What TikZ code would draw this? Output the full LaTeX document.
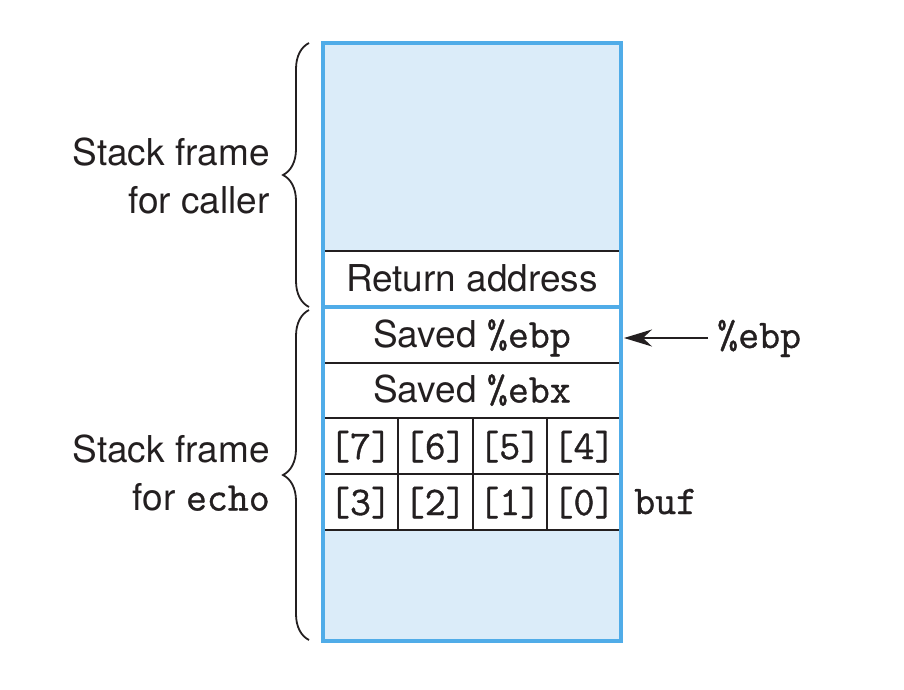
\documentclass[tikz,border=0pt]{standalone}
\usepackage{fontspec}
\setmainfont{TeX Gyre Heros}
\setmonofont{Latin Modern Mono}[Scale=1.1, RawFeature={embolden=0.9}]
\usetikzlibrary{arrows.meta,decorations.pathreplacing}
\definecolor{boxblue}{RGB}{80,172,232}
\definecolor{fillblue}{RGB}{219,236,249}
\definecolor{ink}{RGB}{35,31,32}
\begin{document}
\begin{tikzpicture}[x=1pt,y=-1pt,
  font=\fontsize{37}{48}\selectfont,
  txt/.style={text=ink, inner sep=0pt},
  rowline/.style={draw=ink, line width=2pt},
  blueline/.style={draw=boxblue, line width=3.5pt},
  bracestyle/.style={draw=ink, line width=1.8pt, decorate, decoration={brace, amplitude=26pt}},
  ptr/.style={draw=ink, line width=2pt, -{Stealth[length=28pt,width=17pt,inset=9pt]}}]
\useasboundingbox (0,0) rectangle (904,690);
% fills
\fill[fillblue] (323,43) rectangle (621,251);
\fill[fillblue] (323,530) rectangle (621,641);
% row lines
\draw[rowline] (323,251) -- (621,251);
\draw[rowline] (323,363) -- (621,363);
\draw[rowline] (323,418) -- (621,418);
\draw[rowline] (323,474) -- (621,474);
\draw[rowline] (323,530) -- (621,530);
\draw[rowline] (398,418) -- (398,530);
\draw[rowline] (472.5,418) -- (472.5,530);
\draw[rowline] (547,418) -- (547,530);
% blue frame and divider
\draw[blueline] (323,307) -- (621,307);
\draw[blueline] (323,43) rectangle (621,641);
% row texts
\node[txt, anchor=base] (ret) at (472,291.5) {Return address};
\node[txt, anchor=base] (sebp) at (472,347.5) {Saved \texttt{\%ebp}};
\node[txt, anchor=base] (sebx) at (472,402.5) {Saved \texttt{\%ebx}};
\node[txt, anchor=base] (c7) at (360.5,459) {\texttt{[7]}};
\node[txt, anchor=base] (c6) at (435.25,459) {\texttt{[6]}};
\node[txt, anchor=base] (c5) at (509.75,459) {\texttt{[5]}};
\node[txt, anchor=base] (c4) at (584,459) {\texttt{[4]}};
\node[txt, anchor=base] (c3) at (360.5,515) {\texttt{[3]}};
\node[txt, anchor=base] (c2) at (435.25,515) {\texttt{[2]}};
\node[txt, anchor=base] (c1) at (509.75,515) {\texttt{[1]}};
\node[txt, anchor=base] (c0) at (584,515) {\texttt{[0]}};
% right labels
\node[txt, anchor=base west] (ebplbl) at (717,348) {\texttt{\%ebp}};
\node[txt, anchor=base west] (buf) at (634,514) {\texttt{buf}};
\coordinate (ebptip) at (624,338);
\draw[ptr] (ebplbl.west |- ebptip) ++(-9,0) coordinate (ebptail) (ebptail) -- (ebptip);
% left labels
\node[txt, anchor=east, align=right] (caller) at (270,176) {Stack frame\\for caller};
\node[txt, anchor=east, align=right] (echo) at (270,473) {Stack frame\\for \texttt{echo}};
% braces
\coordinate (b1top) at (309,43);
\coordinate (b1bot) at (309,307);
\coordinate (b2top) at (309,310);
\coordinate (b2bot) at (309,640);
\draw[bracestyle] (b1bot) -- (b1top);
\draw[bracestyle] (b2bot) -- (b2top);
\end{tikzpicture}
\end{document}
